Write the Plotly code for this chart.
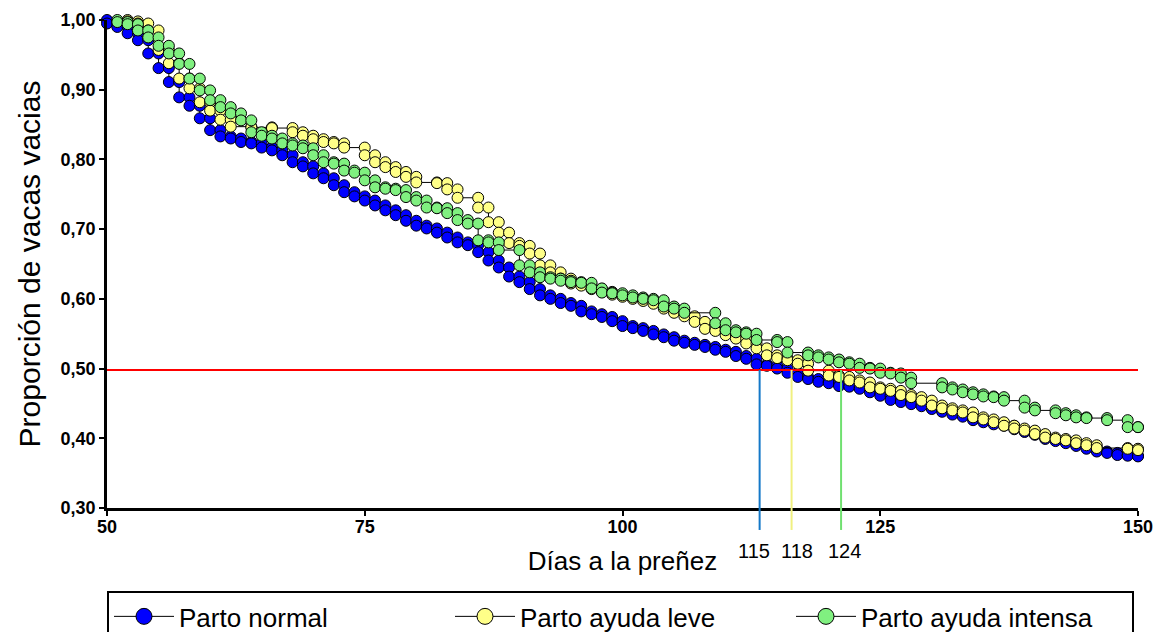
import plotly.graph_objects as go

# ---------------- data ----------------
normal_days = list(range(50, 151))
normal_surv = [0.995, 0.990, 0.981, 0.971, 0.952, 0.931, 0.911, 0.889, 0.877, 0.859,
               0.842, 0.833, 0.830, 0.825, 0.823, 0.817, 0.813, 0.806, 0.796, 0.790,
               0.780, 0.773, 0.763, 0.753, 0.747, 0.741, 0.734, 0.727, 0.720, 0.712,
               0.705, 0.701, 0.695, 0.688, 0.681, 0.677, 0.667, 0.655, 0.645, 0.632,
               0.624, 0.614, 0.605, 0.600, 0.594, 0.590, 0.582, 0.578, 0.574, 0.568,
               0.561, 0.558, 0.554, 0.549, 0.545, 0.540, 0.537, 0.534, 0.531, 0.527,
               0.524, 0.518, 0.514, 0.506, 0.504, 0.500, 0.494, 0.488, 0.485, 0.481,
               0.479, 0.475, 0.474, 0.471, 0.466, 0.461, 0.455, 0.452, 0.449, 0.446,
               0.442, 0.438, 0.434, 0.431, 0.426, 0.423, 0.420, 0.418, 0.413, 0.409,
               0.405, 0.399, 0.396, 0.393, 0.389, 0.385, 0.381, 0.379, 0.376, 0.375,
               0.374]

leve_days = [52, 53, 54, 55, 56, 57, 58, 59, 60, 61, 62, 64, 66, 68, 69, 70, 71, 72, 73,
             75, 76, 77, 78, 79, 80, 82, 83, 84, 86, 87, 88, 89, 90, 91, 92, 93, 94, 95,
             96, 97, 98, 99, 100, 101, 102, 103, 104, 105, 106, 107, 108, 109, 110, 111,
             112, 113, 114, 115, 116, 117, 118, 120, 121, 122, 123, 124, 125, 126, 127,
             128, 129, 130, 131, 132, 133, 134, 135, 136, 137, 138, 139, 140, 141, 142,
             143, 144, 145, 146, 149, 150]
leve_surv = [0.998, 0.995, 0.985, 0.957, 0.938, 0.916, 0.902, 0.882, 0.870, 0.857, 0.847,
             0.846, 0.845, 0.839, 0.834, 0.829, 0.825, 0.823, 0.817,
             0.806, 0.796, 0.789, 0.782, 0.775, 0.767, 0.766, 0.757, 0.745, 0.731, 0.710,
             0.695, 0.680, 0.676, 0.665, 0.648, 0.638, 0.629, 0.622,
             0.619, 0.614, 0.610, 0.606, 0.603, 0.600, 0.597, 0.593, 0.586, 0.580, 0.575,
             0.567, 0.557, 0.554, 0.548, 0.543, 0.536, 0.529, 0.519, 0.515, 0.512, 0.507,
             0.497, 0.490, 0.488, 0.483, 0.480, 0.473, 0.471, 0.468, 0.462, 0.459, 0.454,
             0.447, 0.443, 0.440, 0.437, 0.430, 0.427, 0.423, 0.418, 0.414, 0.411, 0.406,
             0.401, 0.399, 0.397, 0.393, 0.390, 0.386, 0.385, 0.383]

intensa_days = [51, 52, 53, 54, 55, 56, 57, 58, 59, 60, 61, 62, 63, 64, 65, 66, 67, 68, 69,
                70, 71, 72, 73, 74, 75, 76, 77, 78, 79, 80, 81, 82, 83, 84, 85, 86, 87, 88,
                90, 91, 92, 93, 94, 95, 96, 97, 98, 99, 100, 101, 102, 103, 104, 105, 106,
                109, 110, 111, 112, 113, 115, 116, 118, 119, 120, 121, 122, 123, 124, 125,
                126, 127, 128, 131, 132, 133, 134, 135, 136, 137, 139, 140, 142, 143, 144,
                145, 147, 149, 150]
intensa_surv = [0.997, 0.994, 0.985, 0.975, 0.963, 0.952, 0.937, 0.916, 0.899, 0.885,
                0.875, 0.866, 0.856, 0.839, 0.834, 0.830, 0.823, 0.820, 0.816,
                0.806, 0.796, 0.794, 0.784, 0.781, 0.770, 0.760, 0.758, 0.756, 0.746,
                0.741, 0.731, 0.730, 0.723, 0.713, 0.708, 0.684, 0.681, 0.670,
                0.648, 0.638, 0.631, 0.629, 0.626, 0.624, 0.623, 0.615, 0.609, 0.608,
                0.605, 0.602, 0.600, 0.598, 0.589, 0.586, 0.580,
                0.565, 0.555, 0.552, 0.550, 0.541, 0.538, 0.523, 0.519, 0.516, 0.513,
                0.509, 0.507, 0.501, 0.500, 0.494, 0.493, 0.487, 0.479,
                0.473, 0.470, 0.466, 0.463, 0.460, 0.459, 0.454, 0.444, 0.440, 0.436,
                0.433, 0.430, 0.429, 0.426, 0.416, 0.416]

series_names = ["Parto normal", "Parto ayuda leve", "Parto ayuda intensa"]
series_colors = ["#0000FF", "#FFFF88", "#80F080"]
median_days = [113.3, 116.4, 121.2]
median_labels = ["115", "118", "124"]
median_label_pos = [112.8, 116.9, 121.5]
median_colors = ["#1478C8", "#F0F080", "#70E070"]
ref_level = 0.498

x_ticks = [50, 75, 100, 125, 150]
y_ticks = [0.3, 0.4, 0.5, 0.6, 0.7, 0.8, 0.9, 1.0]


def steps(days, surv, start=1.0):
    xs, ys = [], []
    prev = start
    for d, v in zip(days, surv):
        xs += [d, d]
        ys += [prev, v]
        prev = v
    return xs, ys


fig = go.Figure()
all_series = [(normal_days, normal_surv), (leve_days, leve_surv), (intensa_days, intensa_surv)]
for (d, s), name, col in zip(all_series, series_names, series_colors):
    xs, ys = steps(d, s)
    fig.add_trace(go.Scatter(
        x=xs, y=ys, mode="lines+markers", name=name, showlegend=False,
        line=dict(color="black", width=1),
        marker=dict(symbol="circle", size=11, color=col, line=dict(color="black", width=1)),
        cliponaxis=False,
    ))
# legend entries
for name, col in zip(series_names, series_colors):
    fig.add_trace(go.Scatter(
        x=[None], y=[None], mode="lines+markers", name=name,
        line=dict(color="black", width=1),
        marker=dict(symbol="circle", size=16, color=col, line=dict(color="black", width=1)),
    ))

shapes = [dict(type="line", xref="x", yref="y", x0=50, x1=150, y0=ref_level, y1=ref_level,
               line=dict(color="#FF0000", width=2), layer="above")]
annotations = []
for xd, lab, lx, c in zip(median_days, median_labels, median_label_pos, median_colors):
    shapes.append(dict(type="line", xref="x", yref="y", x0=xd, x1=xd, y0=ref_level, y1=0.3,
                       line=dict(color=c, width=2), layer="above"))
    shapes.append(dict(type="line", xref="x", yref="paper", x0=xd, x1=xd, y0=0, y1=-0.045,
                       line=dict(color=c, width=2), layer="above"))
    annotations.append(dict(x=lx, y=-0.062, xref="x", yref="paper", text=lab, showarrow=False,
                            yanchor="top", xanchor="center",
                            font=dict(family="Liberation Sans, Arial", size=20, color="black")))

fig.update_layout(
    width=1164, height=632,
    margin=dict(l=107, r=26, t=20, b=124, autoexpand=False),
    paper_bgcolor="white", plot_bgcolor="white",
    separators=",.",
    font=dict(family="Liberation Sans, Arial", color="black"),
    shapes=shapes, annotations=annotations,
    xaxis=dict(range=[50, 150], tickvals=x_ticks, showline=True, linecolor="black", linewidth=2.5,
               ticks="outside", ticklen=5, tickwidth=2, tickcolor="black", showgrid=False,
               zeroline=False, tickfont=dict(size=18, weight="bold"), ticklabelstandoff=-4,
               title=dict(text="Días a la preñez", font=dict(size=26), standoff=16)),
    yaxis=dict(range=[0.3, 1.0], tickvals=y_ticks, tickformat=".2f", showline=True,
               linecolor="black", linewidth=2.5, ticks="outside", ticklen=5, tickwidth=2,
               tickcolor="black", showgrid=False, zeroline=False,
               tickfont=dict(size=18, weight="bold"),
               title=dict(text="Proporción de vacas vacias", font=dict(size=30), standoff=12)),
    legend=dict(orientation="h", x=0.0, xanchor="left", y=-0.17, yanchor="top",
                bordercolor="black", borderwidth=2, bgcolor="white",
                font=dict(size=26), entrywidth=266, itemwidth=60),
)

fig.write_html("out.html")
